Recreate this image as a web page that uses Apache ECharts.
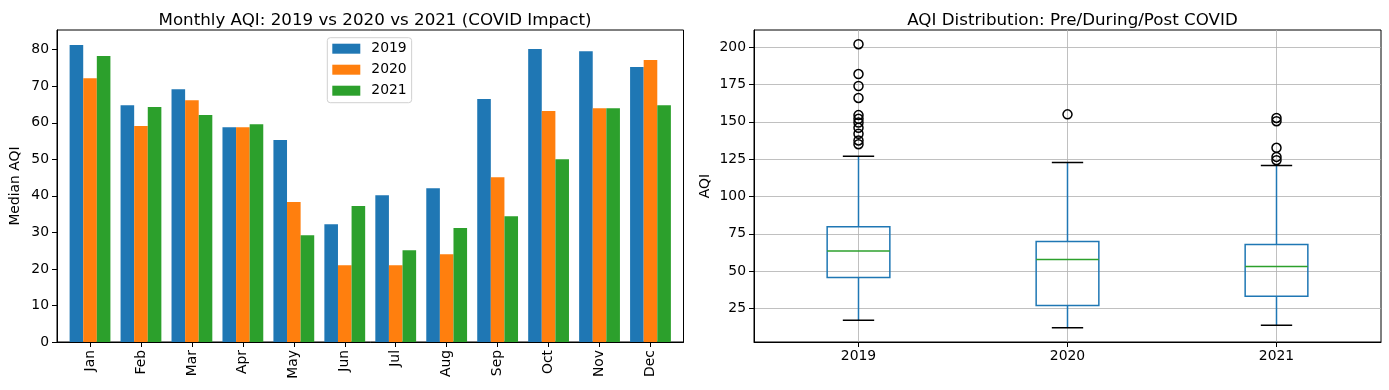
<!DOCTYPE html>
<html>
<head>
<meta charset="utf-8">
<script src="https://cdn.jsdelivr.net/npm/echarts@6/dist/echarts.min.js"></script>
<style>
html,body{margin:0;padding:0;background:#fff;}
#main{width:1389px;height:390px;}
</style>
</head>
<body>
<div id="main"></div>
<script>
// ---- Data: monthly median AQI ----
const months = ['Jan','Feb','Mar','Apr','May','Jun','Jul','Aug','Sep','Oct','Nov','Dec'];
const aqi2019 = [81.3, 64.8, 69.2, 58.8, 55.3, 32.2, 40.2, 42.1, 66.5, 80.2, 79.6, 75.3];
const aqi2020 = [72.2, 59.1, 66.2, 58.8, 38.3, 21.0, 21.0, 24.0, 45.1, 63.2, 64.0, 77.2];
const aqi2021 = [78.3, 64.3, 62.1, 59.6, 29.2, 37.2, 25.1, 31.2, 34.4, 50.0, 64.0, 64.8];
const barTicks = [0, 10, 20, 30, 40, 50, 60, 70, 80];

// ---- Data: AQI distribution box plot ----
const boxYears = ['2019', '2020', '2021'];
const whiskerLow = [17, 12, 13.8];
const q1 = [45.7, 27.0, 33.2];
const median = [63.4, 57.8, 53.1];
const q3 = [79.7, 69.9, 67.8];
const whiskerHigh = [127, 122.8, 120.8];
const outliers2019 = [202, 182, 174, 166, 154.5, 152, 149.5, 146, 142, 137.5, 135];
const outliers2020 = [155];
const outliers2021 = [152.6, 150.4, 132.6, 126.5, 124.3];
const boxTicks = [25, 50, 75, 100, 125, 150, 175, 200];

const FONT = 'DejaVu Sans';
const C_BLUE = '#1f77b4', C_ORANGE = '#ff7f0e', C_GREEN = '#2ca02c';

const chart = echarts.init(document.getElementById('main'), null, {renderer: 'canvas'});

const monthIdx = months.map((m, i) => i);
const toPairs = arr => arr.map((v, i) => [i, v]);
const boxData = boxYears.map((y, i) => [i + 1, whiskerLow[i], q1[i], median[i], q3[i], whiskerHigh[i]]);
const outlierData = []
  .concat(outliers2019.map(v => [1, v]))
  .concat(outliers2020.map(v => [2, v]))
  .concat(outliers2021.map(v => [3, v]));

const axisLabelStyle = {color: '#000', fontFamily: FONT, fontSize: 13.9};

const option = {
  animation: false,
  backgroundColor: '#fff',
  title: [
    {text: 'Monthly AQI: 2019 vs 2020 vs 2021 (COVID Impact)', left: 370, top: 7, textAlign: 'center',
     textStyle: {fontFamily: FONT, fontSize: 16.7, fontWeight: 'normal', color: '#000'}},
    {text: 'AQI Distribution: Pre/During/Post COVID', left: 1067.5, top: 7, textAlign: 'center',
     textStyle: {fontFamily: FONT, fontSize: 16.7, fontWeight: 'normal', color: '#000'}}
  ],
  legend: {
    data: ['2019', '2020', '2021'],
    orient: 'vertical',
    left: 327.3, top: 37.7,
    icon: 'rect',
    itemWidth: 28, itemHeight: 10,
    itemGap: 7,
    padding: [4, 5, 5, 5],
    borderColor: '#d0d0d0', borderWidth: 1, borderRadius: 3,
    backgroundColor: 'rgba(255,255,255,0.8)',
    textStyle: {fontFamily: FONT, fontSize: 13.9, color: '#000', lineHeight: 14, padding: [0, 0, 0, 6]},
    selectedMode: false
  },
  grid: [
    {left: 57, right: 705.5, top: 30, bottom: 48, show: true, borderColor: '#000', borderWidth: 1, containLabel: false},
    {left: 754, right: 8, top: 30, bottom: 48, show: true, borderColor: '#000', borderWidth: 1, containLabel: false}
  ],
  xAxis: [
    {type: 'value', gridIndex: 0, min: -0.648, max: 11.648,
     axisLine: {show: true, onZero: false, lineStyle: {color: '#000', width: 1}},
     axisTick: {show: true, length: 5, lineStyle: {color: '#000'}, customValues: monthIdx},
     axisLabel: Object.assign({}, axisLabelStyle, {rotate: 90, margin: 8, customValues: monthIdx,
       formatter: v => months[Math.round(v)]}),
     splitLine: {show: false}},
    {type: 'value', gridIndex: 1, min: 0.5, max: 3.5,
     axisLine: {show: true, onZero: false, lineStyle: {color: '#000', width: 1}},
     axisTick: {show: true, length: 5, lineStyle: {color: '#000'}, customValues: [1, 2, 3]},
     axisLabel: Object.assign({}, axisLabelStyle, {margin: 7, customValues: [1, 2, 3],
       formatter: v => boxYears[Math.round(v) - 1]}),
     splitLine: {show: true, lineStyle: {color: '#b0b0b0', width: 0.8}}}
  ],
  yAxis: [
    {type: 'value', gridIndex: 0, min: 0, max: 85.4,
     name: 'Median AQI', nameLocation: 'middle', nameGap: 35, nameRotate: 90,
     nameTextStyle: {fontFamily: FONT, fontSize: 13.9, color: '#000'},
     axisLine: {show: true, onZero: false, lineStyle: {color: '#000', width: 1}},
     axisTick: {show: true, length: 5, lineStyle: {color: '#000'}, customValues: barTicks},
     axisLabel: Object.assign({}, axisLabelStyle, {margin: 8, customValues: barTicks}),
     splitLine: {show: false}},
    {type: 'value', gridIndex: 1, min: 2.5, max: 211.5,
     name: 'AQI', nameLocation: 'middle', nameGap: 42, nameRotate: 90,
     nameTextStyle: {fontFamily: FONT, fontSize: 13.9, color: '#000'},
     axisLine: {show: true, onZero: false, lineStyle: {color: '#000', width: 1}},
     axisTick: {show: true, length: 5, lineStyle: {color: '#000'}, customValues: boxTicks},
     axisLabel: Object.assign({}, axisLabelStyle, {margin: 8, customValues: boxTicks}),
     splitLine: {show: true, lineStyle: {color: '#b0b0b0', width: 0.8}}}
  ],
  series: [
    {name: '2019', type: 'bar', xAxisIndex: 0, yAxisIndex: 0, data: toPairs(aqi2019),
     barWidth: 13.6, barGap: '0%', itemStyle: {color: C_BLUE}},
    {name: '2020', type: 'bar', xAxisIndex: 0, yAxisIndex: 0, data: toPairs(aqi2020),
     barWidth: 13.6, barGap: '0%', itemStyle: {color: C_ORANGE}},
    {name: '2021', type: 'bar', xAxisIndex: 0, yAxisIndex: 0, data: toPairs(aqi2021),
     barWidth: 13.6, barGap: '0%', itemStyle: {color: C_GREEN}},
    {name: 'box', type: 'custom', xAxisIndex: 1, yAxisIndex: 1, data: boxData,
     encode: {x: 0, y: [1, 2, 3, 4, 5]},
     z: 3,
     renderItem: function (params, api) {
       const x = api.value(0);
       const half = api.size([0.15, 0])[0];
       const capHalf = api.size([0.075, 0])[0];
       const pLo = api.coord([x, api.value(1)]);
       const pQ1 = api.coord([x, api.value(2)]);
       const pMed = api.coord([x, api.value(3)]);
       const pQ3 = api.coord([x, api.value(4)]);
       const pHi = api.coord([x, api.value(5)]);
       const cx = pMed[0];
       const lw = 1.5;
       return {
         type: 'group',
         children: [
           {type: 'line', shape: {x1: cx, y1: pQ1[1], x2: cx, y2: pLo[1]}, style: {stroke: C_BLUE, lineWidth: lw}},
           {type: 'line', shape: {x1: cx, y1: pQ3[1], x2: cx, y2: pHi[1]}, style: {stroke: C_BLUE, lineWidth: lw}},
           {type: 'line', shape: {x1: cx - capHalf, y1: pLo[1], x2: cx + capHalf, y2: pLo[1]}, style: {stroke: '#000', lineWidth: lw}},
           {type: 'line', shape: {x1: cx - capHalf, y1: pHi[1], x2: cx + capHalf, y2: pHi[1]}, style: {stroke: '#000', lineWidth: lw}},
           {type: 'rect', shape: {x: cx - half, y: pQ3[1], width: 2 * half, height: pQ1[1] - pQ3[1]},
            style: {fill: 'none', stroke: C_BLUE, lineWidth: lw}},
           {type: 'line', shape: {x1: cx - half, y1: pMed[1], x2: cx + half, y2: pMed[1]}, style: {stroke: C_GREEN, lineWidth: lw}}
         ]
       };
     }},
    {name: 'outliers', type: 'scatter', xAxisIndex: 1, yAxisIndex: 1, data: outlierData,
     symbol: 'circle', symbolSize: 9, z: 4,
     itemStyle: {color: 'rgba(0,0,0,0)', borderColor: '#000', borderWidth: 1.5, opacity: 1}}
  ]
};
chart.setOption(option);
</script>
</body>
</html>
